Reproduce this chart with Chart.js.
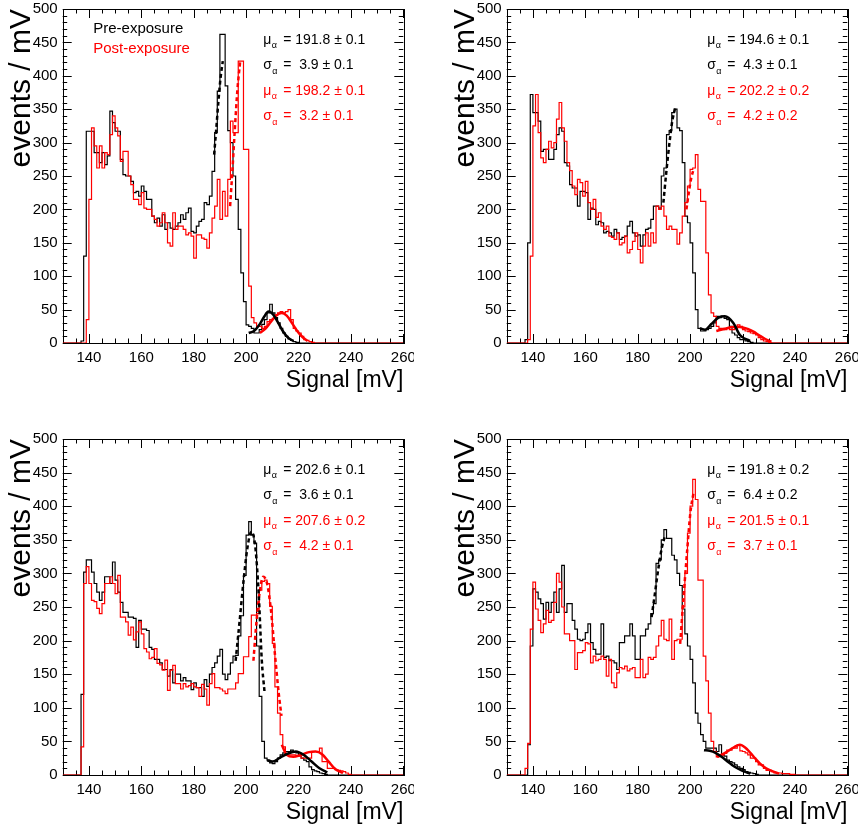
<!DOCTYPE html>
<html>
<head>
<meta charset="utf-8">
<script src="https://cdn.jsdelivr.net/npm/chart.js@4.4.0/dist/chart.umd.min.js"></script>
<style>
  html, body { margin: 0; padding: 0; background: #fff; overflow: hidden; }
  #page { position: relative; width: 858px; height: 825px; overflow: hidden; }
  canvas { position: absolute; }
</style>
</head>
<body>
<div id="page">
  <canvas id="panel1" width="414" height="400" style="left:0;top:0"></canvas>
  <canvas id="panel2" width="414" height="400" style="left:444px;top:0"></canvas>
  <canvas id="panel3" width="414" height="402" style="left:0;top:430px"></canvas>
  <canvas id="panel4" width="414" height="402" style="left:444px;top:430px"></canvas>
</div>
<script>
// histogram bins are 1 mV wide, first stored bin starts at 136 mV
const firstBin = 136;
const signalRange = [130, 260];
const countRange = [0, 500];
const seriesNames = ["Pre-exposure", "Post-exposure"];

// panel 1
const pre1 = [0, 3, 130, 317, 317, 317, 285, 285, 270, 285,
  267, 280, 347, 330, 317, 317, 275, 252, 250, 250,
  242, 225, 227, 220, 235, 227, 215, 215, 190, 180,
  187, 175, 192, 170, 180, 172, 170, 175, 180, 192,
  185, 195, 202, 167, 165, 175, 182, 185, 210, 207,
  220, 257, 315, 377, 462, 462, 385, 318, 300, 250,
  215, 170, 105, 62, 27, 25, 22, 15, 15, 20,
  28, 35, 45, 58, 45, 38, 30, 22, 15, 10,
  6, 4, 2, 1];
const post1 = [0, 0, 0, 35, 215, 322, 295, 262, 295, 262,
  285, 282, 312, 340, 322, 310, 272, 287, 287, 250,
  237, 215, 215, 207, 225, 202, 200, 200, 190, 185,
  175, 180, 195, 180, 150, 145, 195, 170, 175, 175,
  170, 162, 165, 160, 127, 162, 162, 157, 155, 142,
  165, 187, 205, 245, 185, 227, 190, 245, 332, 315,
  315, 422, 422, 290, 290, 85, 38, 30, 25, 25,
  22, 25, 32, 35, 37, 42, 45, 47, 45, 47,
  50, 35, 22, 18, 15, 10, 5, 4, 2, 1];
const peakFitPre1 = [[187.8, 282], [188.6, 320], [189.4, 360], [190.2, 395], [191.1, 422]];
const peakFitPost1 = [[193.9, 205], [194.8, 260], [195.7, 320], [196.7, 380], [197.7, 420]];
const bumpFitPre1 = [[201, 15], [203, 18], [205, 27], [207, 40], [208.5, 47], [210, 44], [212, 32], [214, 18], [216, 8], [218, 3]];
const bumpFitPost1 = [[205.3, 15], [207.5, 22], [209.5, 32], [211.5, 41], [213.6, 45], [215.5, 41], [217.5, 30], [219.5, 18], [221.5, 9], [223.5, 3]];

// panel 2
const pre2 = [0, 5, 150, 372, 345, 345, 332, 287, 290, 290,
  275, 275, 290, 312, 322, 317, 270, 265, 237, 232,
  232, 205, 227, 227, 225, 185, 202, 200, 177, 182,
  180, 165, 167, 165, 160, 170, 165, 155, 158, 160,
  175, 182, 165, 160, 162, 145, 162, 170, 172, 185,
  205, 205, 202, 250, 262, 312, 318, 345, 350, 322,
  318, 270, 190, 180, 150, 105, 50, 22, 18, 18,
  20, 22, 25, 30, 40, 38, 40, 37, 35, 25,
  15, 12, 8, 5, 5, 3, 2, 1];
const post2 = [0, 0, 5, 130, 325, 372, 315, 277, 270, 290,
  302, 292, 300, 335, 360, 322, 302, 270, 258, 235,
  222, 245, 240, 220, 242, 210, 200, 215, 188, 195,
  175, 170, 175, 160, 158, 155, 165, 147, 150, 160,
  135, 140, 152, 165, 140, 120, 145, 165, 145, 165,
  150, 205, 200, 205, 190, 170, 175, 170, 170, 148,
  165, 190, 210, 235, 260, 262, 282, 230, 212, 212,
  135, 72, 45, 40, 25, 22, 22, 20, 22, 20,
  20, 22, 27, 25, 20, 18, 17, 15, 14, 12,
  8, 5, 3, 2, 1];
const peakFitPre2 = [[189.8, 210], [190.9, 255], [192, 295], [193.1, 330], [194.3, 352]];
const peakFitPost2 = [[198.6, 200], [199.5, 225], [200.5, 248], [201.5, 262]];
const bumpFitPre2 = [[203.8, 22], [205.7, 20], [208, 28], [210.8, 38], [213.3, 40], [216.5, 30], [219, 12], [222.9, 3]];
const bumpFitPost2 = [[210, 18], [213, 21], [216.5, 24], [219, 24], [222, 21], [224.2, 17], [226.2, 12], [228.7, 6], [231, 2]];

// panel 3
const pre3 = [0, 120, 302, 320, 320, 302, 285, 272, 260, 272,
  295, 295, 285, 317, 290, 272, 257, 242, 242, 235,
  235, 233, 190, 230, 217, 217, 215, 190, 187, 172,
  172, 167, 157, 157, 147, 157, 137, 150, 150, 140,
  145, 140, 140, 127, 137, 130, 130, 117, 142, 132,
  150, 160, 167, 177, 187, 150, 142, 150, 167, 177,
  178, 207, 237, 297, 357, 377, 357, 345, 192, 117,
  50, 25, 22, 18, 17, 20, 25, 30, 33, 35,
  35, 37, 35, 33, 30, 25, 22, 20, 12, 8,
  6, 5, 3, 2, 1];
const post3 = [0, 42, 285, 310, 285, 260, 258, 248, 240, 255,
  285, 285, 295, 285, 270, 297, 235, 235, 228, 208,
  220, 201, 213, 228, 210, 188, 183, 173, 175, 188,
  166, 164, 156, 171, 126, 156, 163, 136, 136, 128,
  136, 131, 133, 136, 131, 130, 117, 135, 128, 104,
  136, 151, 130, 130, 128, 125, 121, 128, 128, 128,
  137, 151, 151, 176, 176, 206, 238, 238, 240, 275,
  288, 290, 285, 251, 196, 131, 92, 60, 42, 30,
  30, 30, 30, 28, 28, 25, 25, 25, 25, 35,
  35, 35, 40, 20, 20, 10, 10, 10, 8, 7,
  6, 5, 3, 1];
const peakFitPre3 = [[196, 170], [197.5, 228], [199, 288], [200.5, 338], [202, 362], [203.5, 340], [204.8, 270], [206, 170], [207, 125]];
const peakFitPost3 = [[202.8, 170], [204, 230], [205.3, 275], [206.5, 295], [208, 285], [209.5, 245], [211, 180], [212.5, 120], [213.5, 88]];
const bumpFitPre3 = [[208, 22], [210, 20], [213, 26], [216, 32], [219, 35], [222, 30], [225, 20], [228, 10], [231, 4]];
const bumpFitPost3 = [[213.6, 45], [215.5, 30], [218, 27], [221, 30], [224, 34], [226.5, 35], [229, 31], [231.5, 20], [234, 9], [237, 3]];

// panel 4
const pre4 = [0, 0, 45, 192, 277, 272, 262, 255, 232, 257,
  242, 257, 272, 242, 277, 312, 242, 255, 255, 230,
  217, 202, 200, 202, 212, 225, 197, 187, 180, 180,
  225, 175, 177, 170, 170, 167, 157, 197, 197, 207,
  207, 225, 207, 172, 172, 207, 207, 217, 225, 240,
  255, 315, 320, 350, 365, 352, 352, 327, 320, 300,
  282, 247, 210, 192, 172, 137, 92, 77, 60, 50,
  40, 40, 40, 40, 35, 45, 30, 28, 22, 20,
  18, 15, 12, 10, 8, 5, 4, 3, 2, 1];
const post4 = [0, 10, 47, 217, 287, 247, 230, 212, 225, 245,
  227, 230, 257, 300, 287, 250, 210, 210, 200, 200,
  157, 182, 182, 185, 197, 195, 167, 177, 170, 172,
  177, 172, 147, 172, 137, 130, 152, 160, 158, 162,
  155, 158, 160, 145, 145, 172, 145, 150, 175, 172,
  175, 192, 207, 230, 202, 200, 232, 172, 200, 202,
  202, 250, 300, 360, 400, 440, 410, 290, 290, 177,
  140, 92, 50, 35, 27, 28, 30, 32, 37, 37,
  40, 40, 45, 36, 35, 33, 30, 25, 25, 20,
  15, 15, 10, 7, 7, 5, 3, 3, 3, 2,
  2, 2, 1, 1];
const peakFitPre4 = [[185.3, 235], [186.5, 268], [187.8, 305], [189.2, 338], [190.5, 357]];
const peakFitPost4 = [[196.2, 195], [197.5, 265], [198.8, 330], [200.1, 390], [201.3, 420]];
const bumpFitPre4 = [[205.3, 37], [207.5, 36], [209.7, 33], [212, 27], [214, 21], [216, 15], [218, 10], [220, 6], [223, 2]];
const bumpFitPost4 = [[210.3, 27], [212.5, 31], [214.7, 36], [217, 42], [219, 45], [221, 41], [223, 33], [225, 24], [226.7, 17], [229, 10], [231.8, 5], [234, 2]];

// fit results, one entry per panel
const meanPre = ["191.8 ± 0.1", "194.6 ± 0.1", "202.6 ± 0.1", "191.8 ± 0.2"];
const sigmaPre = [" 3.9 ± 0.1", " 4.3 ± 0.1", " 3.6 ± 0.1", " 6.4 ± 0.2"];
const meanPost = ["198.2 ± 0.1", "202.2 ± 0.2", "207.6 ± 0.2", "201.5 ± 0.1"];
const sigmaPost = [" 3.2 ± 0.1", " 4.2 ± 0.2", " 4.2 ± 0.1", " 3.7 ± 0.1"];

const fontFamily = "'Liberation Sans', Arial, Helvetica, sans-serif";
const BLACK = "#000000";
const RED = "#ff0000";

function histPoints(counts) {
  const pts = [{ x: signalRange[0], y: 0 }];
  counts.forEach((c, i) => pts.push({ x: firstBin + i, y: c }));
  pts.push({ x: firstBin + counts.length, y: 0 });
  pts.push({ x: signalRange[1], y: 0 });
  return pts;
}

function curvePoints(pairs) {
  return pairs.map(p => ({ x: p[0], y: p[1] }));
}

// ROOT style frame with ticks pointing inwards on all four sides
const frameTicks = {
  id: "frameTicks",
  beforeDatasetsDraw(chart) {
    const { ctx, chartArea: a, scales } = chart;
    ctx.save();
    ctx.strokeStyle = BLACK;
    ctx.lineWidth = 1;
    ctx.beginPath();
    for (let v = signalRange[0]; v <= signalRange[1]; v += 5) {
      const px = Math.round(scales.x.getPixelForValue(v)) + 0.5;
      const len = v % 20 === 0 ? 9 : 4.5;
      ctx.moveTo(px, a.bottom); ctx.lineTo(px, a.bottom - len);
      ctx.moveTo(px, a.top); ctx.lineTo(px, a.top + len);
    }
    for (let v = countRange[0]; v <= countRange[1]; v += 10) {
      const py = Math.round(scales.y.getPixelForValue(v)) + 0.5;
      const len = v % 50 === 0 ? 9 : 4.5;
      ctx.moveTo(a.left, py); ctx.lineTo(a.left + len, py);
      ctx.moveTo(a.right, py); ctx.lineTo(a.right - len, py);
    }
    ctx.stroke();
    ctx.strokeRect(Math.round(a.left) + 0.5, Math.round(a.top) + 0.5,
      Math.round(a.width), Math.round(a.height));
    ctx.restore();
  }
};

const fitLabels = {
  id: "fitLabels",
  afterDraw(chart, args, opts) {
    const { ctx, chartArea: a } = chart;
    ctx.save();
    ctx.textBaseline = "middle";
    ctx.textAlign = "left";
    if (opts.legend) {
      ctx.font = "15px " + fontFamily;
      ctx.fillStyle = BLACK;
      ctx.fillText(seriesNames[0], a.left + 30.5, a.top + 20);
      ctx.fillStyle = RED;
      ctx.fillText(seriesNames[1], a.left + 30.5, a.top + 40);
    }
    opts.lines.forEach((line, i) => {
      const x0 = a.left + 200.5;
      const y0 = a.top + 31 + i * 25.5;
      ctx.fillStyle = line.color;
      ctx.font = "14px " + fontFamily;
      ctx.fillText(line.symbol, x0, y0);
      const w = ctx.measureText(line.symbol).width;
      ctx.font = "9px " + fontFamily;
      ctx.fillText("α", x0 + w + 0.5, y0 + 6);
      ctx.font = "14px " + fontFamily;
      ctx.fillText("= " + line.text, x0 + 20, y0);
    });
    ctx.restore();
  }
};

function drawPanel(id, k, pre, post, peakPre, peakPost, bumpPre, bumpPost, withLegend) {
  const fitStyle = { pointRadius: 0, fill: false, borderWidth: 2.5, cubicInterpolationMode: "monotone" };
  const histStyle = { pointRadius: 0, fill: false, borderWidth: 1.2, stepped: "before" };
  new Chart(document.getElementById(id).getContext("2d"), {
    type: "line",
    data: {
      datasets: [
        { ...fitStyle, data: curvePoints(peakPre), borderColor: BLACK, borderDash: [4, 3] },
        { ...fitStyle, data: curvePoints(peakPost), borderColor: RED, borderDash: [4, 3] },
        { ...fitStyle, data: curvePoints(bumpPre), borderColor: BLACK },
        { ...fitStyle, data: curvePoints(bumpPost), borderColor: RED },
        { ...histStyle, label: seriesNames[1], data: histPoints(post), borderColor: RED },
        { ...histStyle, label: seriesNames[0], data: histPoints(pre), borderColor: BLACK }
      ]
    },
    options: {
      responsive: false,
      devicePixelRatio: 1,
      animation: false,
      layout: { padding: { top: 9, right: 10.7, left: 0, bottom: 0 } },
      plugins: {
        legend: { display: false },
        tooltip: { enabled: false },
        fitLabels: {
          legend: withLegend,
          lines: [
            { symbol: "μ", text: meanPre[k], color: BLACK },
            { symbol: "σ", text: sigmaPre[k], color: BLACK },
            { symbol: "μ", text: meanPost[k], color: RED },
            { symbol: "σ", text: sigmaPost[k], color: RED }
          ]
        }
      },
      scales: {
        x: {
          type: "linear",
          min: signalRange[0],
          max: signalRange[1],
          grid: { display: false, drawTicks: false },
          border: { display: false },
          ticks: { stepSize: 20, includeBounds: false, padding: 6, color: BLACK,
            font: { family: fontFamily, size: 15 }, maxRotation: 0, autoSkip: false },
          title: { display: true, text: "Signal [mV]", align: "end", color: BLACK,
            font: { family: fontFamily, size: 23 }, padding: { top: 0, bottom: 6 } },
          afterFit: s => { s.height = 57; s.paddingLeft = 0; s.paddingRight = 0; }
        },
        y: {
          type: "linear",
          min: countRange[0],
          max: countRange[1],
          grid: { display: false, drawTicks: false },
          border: { display: false },
          ticks: { stepSize: 50, padding: 5, color: BLACK,
            font: { family: fontFamily, size: 15 } },
          title: { display: true, text: "events / mV", align: "end", color: BLACK,
            font: { family: fontFamily, size: 30 }, padding: { top: 4, bottom: 0 } },
          afterFit: s => { s.width = 62.7; s.paddingTop = 0; s.paddingBottom = 0; }
        }
      }
    },
    plugins: [frameTicks, fitLabels]
  });
}

drawPanel("panel1", 0, pre1, post1, peakFitPre1, peakFitPost1, bumpFitPre1, bumpFitPost1, true);
drawPanel("panel2", 1, pre2, post2, peakFitPre2, peakFitPost2, bumpFitPre2, bumpFitPost2, false);
drawPanel("panel3", 2, pre3, post3, peakFitPre3, peakFitPost3, bumpFitPre3, bumpFitPost3, false);
drawPanel("panel4", 3, pre4, post4, peakFitPre4, peakFitPost4, bumpFitPre4, bumpFitPost4, false);
</script>
</body>
</html>
